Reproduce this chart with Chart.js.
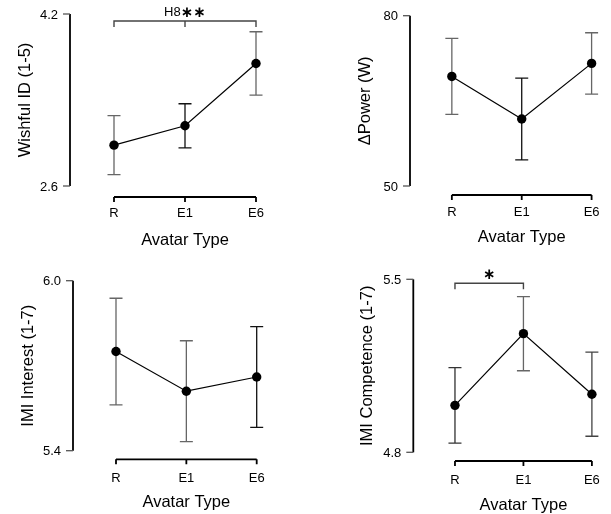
<!DOCTYPE html>
<html>
<head>
<meta charset="utf-8">
<script src="https://cdn.jsdelivr.net/npm/chart.js@4.4.1/dist/chart.umd.min.js"></script>
<style>
  body { margin: 0; background: #fff; }
  #fig { position: relative; width: 611px; height: 514px; }
  .panel { position: absolute; width: 306px; height: 257px; }
</style>
</head>
<body>
<div id="fig">
  <div class="panel" style="left:0;top:0"><canvas id="c1" width="306" height="257"></canvas></div>
  <div class="panel" style="left:305px;top:0"><canvas id="c2" width="306" height="257"></canvas></div>
  <div class="panel" style="left:0;top:257px"><canvas id="c3" width="306" height="257"></canvas></div>
  <div class="panel" style="left:305px;top:257px"><canvas id="c4" width="306" height="257"></canvas></div>
</div>
<script>
const categories = ['R', 'E1', 'E6'];
const xTitle = 'Avatar Type';

const wishfulMean = [2.98, 3.16, 3.74];
const wishfulErr = [0.275, 0.205, 0.295];
const wishfulTicks = [2.6, 4.2];

const powerMean = [69.3, 61.8, 71.6];
const powerErr = [6.7, 7.2, 5.4];
const powerTicks = [50, 80];

const interestMean = [5.75, 5.61, 5.66];
const interestErr = [0.188, 0.178, 0.178];
const interestTicks = [5.4, 6.0];

const competenceMean = [4.99, 5.28, 5.035];
const competenceErr = [0.153, 0.15, 0.17];
const competenceTicks = [4.8, 5.5];

const FONT = '"Liberation Sans", Arial, sans-serif';

function dibujarPanel(id, p) {
  const sp = (p.e6X - p.rX) / 2;
  const rightEdge = p.e6X + 15;

  const decorPlugin = {
    id: 'decor' + id,
    beforeDatasetsDraw(chart) {
      const ctx = chart.ctx, xs = chart.scales.x, ys = chart.scales.y;
      ctx.save();
      ctx.lineWidth = 1.3;
      p.means.forEach((m, i) => {
        const x = xs.getPixelForValue(i);
        const yt = ys.getPixelForValue(m + p.errs[i]);
        const yb = ys.getPixelForValue(m - p.errs[i]);
        ctx.strokeStyle = p.barColors[i];
        ctx.beginPath();
        ctx.moveTo(x, yt); ctx.lineTo(x, yb);
        ctx.moveTo(x - 6.5, yt); ctx.lineTo(x + 6.5, yt);
        ctx.moveTo(x - 6.5, yb); ctx.lineTo(x + 6.5, yb);
        ctx.stroke();
      });
      ctx.restore();
    },
    afterDraw(chart) {
      const ctx = chart.ctx, xs = chart.scales.x, ys = chart.scales.y;
      const area = chart.chartArea;
      ctx.save();
      ctx.fillStyle = '#000';

      // eje y
      const yTop = ys.getPixelForValue(p.yTicks[1]);
      const yBot = ys.getPixelForValue(p.yTicks[0]);
      ctx.strokeStyle = '#000';
      ctx.lineWidth = 1.8;
      ctx.beginPath();
      ctx.moveTo(area.left, yTop); ctx.lineTo(area.left, yBot);
      ctx.stroke();
      ctx.strokeStyle = '#555';
      ctx.lineWidth = 1.3;
      ctx.font = '13px ' + FONT;
      ctx.textAlign = 'right';
      ctx.textBaseline = 'middle';
      p.yTicks.forEach(t => {
        const y = ys.getPixelForValue(t);
        ctx.beginPath();
        ctx.moveTo(area.left - 7, y); ctx.lineTo(area.left, y);
        ctx.stroke();
        ctx.fillText(t.toFixed(p.decimals), area.left - 12, y + 1);
      });

      // eje x
      const x0 = xs.getPixelForValue(0), x2 = xs.getPixelForValue(categories.length - 1);
      ctx.strokeStyle = '#000';
      ctx.lineWidth = 1.8;
      ctx.beginPath();
      ctx.moveTo(x0, p.xAxisY); ctx.lineTo(x2, p.xAxisY);
      categories.forEach((c, i) => {
        const x = xs.getPixelForValue(i);
        ctx.moveTo(x, p.xAxisY); ctx.lineTo(x, p.xAxisY + 5);
      });
      ctx.stroke();
      ctx.textAlign = 'center';
      categories.forEach((c, i) => {
        ctx.fillText(c, xs.getPixelForValue(i), p.tickLabelY);
      });

      // titulos
      ctx.font = '16.5px ' + FONT;
      ctx.fillText(xTitle, xs.getPixelForValue(1), p.titleY);
      ctx.save();
      ctx.translate(p.yTitleX, (yTop + yBot) / 2);
      ctx.rotate(-Math.PI / 2);
      ctx.fillText(p.yTitle, 0, 0);
      ctx.restore();

      // significancia
      if (p.bracket) {
        const b = p.bracket;
        const bx0 = xs.getPixelForValue(b.from), bx1 = xs.getPixelForValue(b.to);
        ctx.strokeStyle = '#444';
        ctx.lineWidth = 1.4;
        ctx.beginPath();
        ctx.moveTo(bx0, b.y + 6); ctx.lineTo(bx0, b.y); ctx.lineTo(bx1, b.y); ctx.lineTo(bx1, b.y + 6);
        for (let k = b.from + 1; k < b.to; k++) {
          const xm = xs.getPixelForValue(k);
          ctx.moveTo(xm, b.y); ctx.lineTo(xm, b.y + 6);
        }
        ctx.stroke();
        const fLabel = '13px ' + FONT, fStars = 'bold 15px "DejaVu Sans", sans-serif';
        ctx.font = fLabel;
        const wl = ctx.measureText(b.label).width;
        ctx.font = fStars;
        const ws = ctx.measureText(b.stars).width;
        const sx = (bx0 + bx1) / 2 - (wl + ws) / 2;
        ctx.textAlign = 'left';
        ctx.font = fLabel;
        ctx.fillText(b.label, sx, b.y - 9);
        ctx.font = fStars;
        ctx.fillText(b.stars, sx + wl, b.y - 8);
      }
      ctx.restore();
    }
  };

  new Chart(document.getElementById(id), {
    type: 'line',
    data: {
      datasets: [{
        data: p.means.map((v, i) => ({ x: i, y: v })),
        borderColor: '#000',
        borderWidth: 1.2,
        pointRadius: 4.7,
        pointBackgroundColor: '#000',
        pointBorderWidth: 0,
        clip: false
      }]
    },
    options: {
      responsive: false,
      animation: false,
      layout: { padding: { left: p.axisX, top: p.top, bottom: 257 - p.bottom, right: 306 - rightEdge } },
      plugins: { legend: { display: false }, tooltip: { enabled: false } },
      scales: {
        x: { type: 'linear', display: false, min: -(p.rX - p.axisX) / sp, max: (rightEdge - p.rX) / sp },
        y: { display: false, min: p.yTicks[0], max: p.yTicks[1] }
      }
    },
    plugins: [decorPlugin]
  });
}

dibujarPanel('c1', {
  means: wishfulMean, errs: wishfulErr, yTicks: wishfulTicks, decimals: 1,
  yTitle: 'Wishful ID (1-5)', barColors: ['#666', '#111', '#666'],
  axisX: 70, top: 14, bottom: 186, rX: 114, e6X: 256,
  xAxisY: 197, tickLabelY: 213, titleY: 240, yTitleX: 25,
  bracket: { from: 0, to: 2, y: 21, label: 'H8', stars: '\u2217\u2217' }
});
dibujarPanel('c2', {
  means: powerMean, errs: powerErr, yTicks: powerTicks, decimals: 0,
  yTitle: '\u0394Power (W)', barColors: ['#666', '#111', '#666'],
  axisX: 105, top: 15.7, bottom: 186, rX: 147.7, e6X: 290.3,
  xAxisY: 195, tickLabelY: 212, titleY: 237, yTitleX: 60
});
dibujarPanel('c3', {
  means: interestMean, errs: interestErr, yTicks: interestTicks, decimals: 1,
  yTitle: 'IMI Interest (1-7)', barColors: ['#666', '#666', '#111'],
  axisX: 73, top: 23.7, bottom: 193.7, rX: 116, e6X: 256.7,
  xAxisY: 202.3, tickLabelY: 221, titleY: 245, yTitleX: 28
});
dibujarPanel('c4', {
  means: competenceMean, errs: competenceErr, yTicks: competenceTicks, decimals: 1,
  yTitle: 'IMI Competence (1-7)', barColors: ['#333', '#666', '#444'],
  axisX: 108.3, top: 22.3, bottom: 195.3, rX: 151.7, e6X: 294.3,
  xAxisY: 204, tickLabelY: 223, titleY: 248, yTitleX: 62,
  bracket: { from: 0, to: 1, y: 26.3, label: '', stars: '\u2217' }
});
</script>
</body>
</html>
